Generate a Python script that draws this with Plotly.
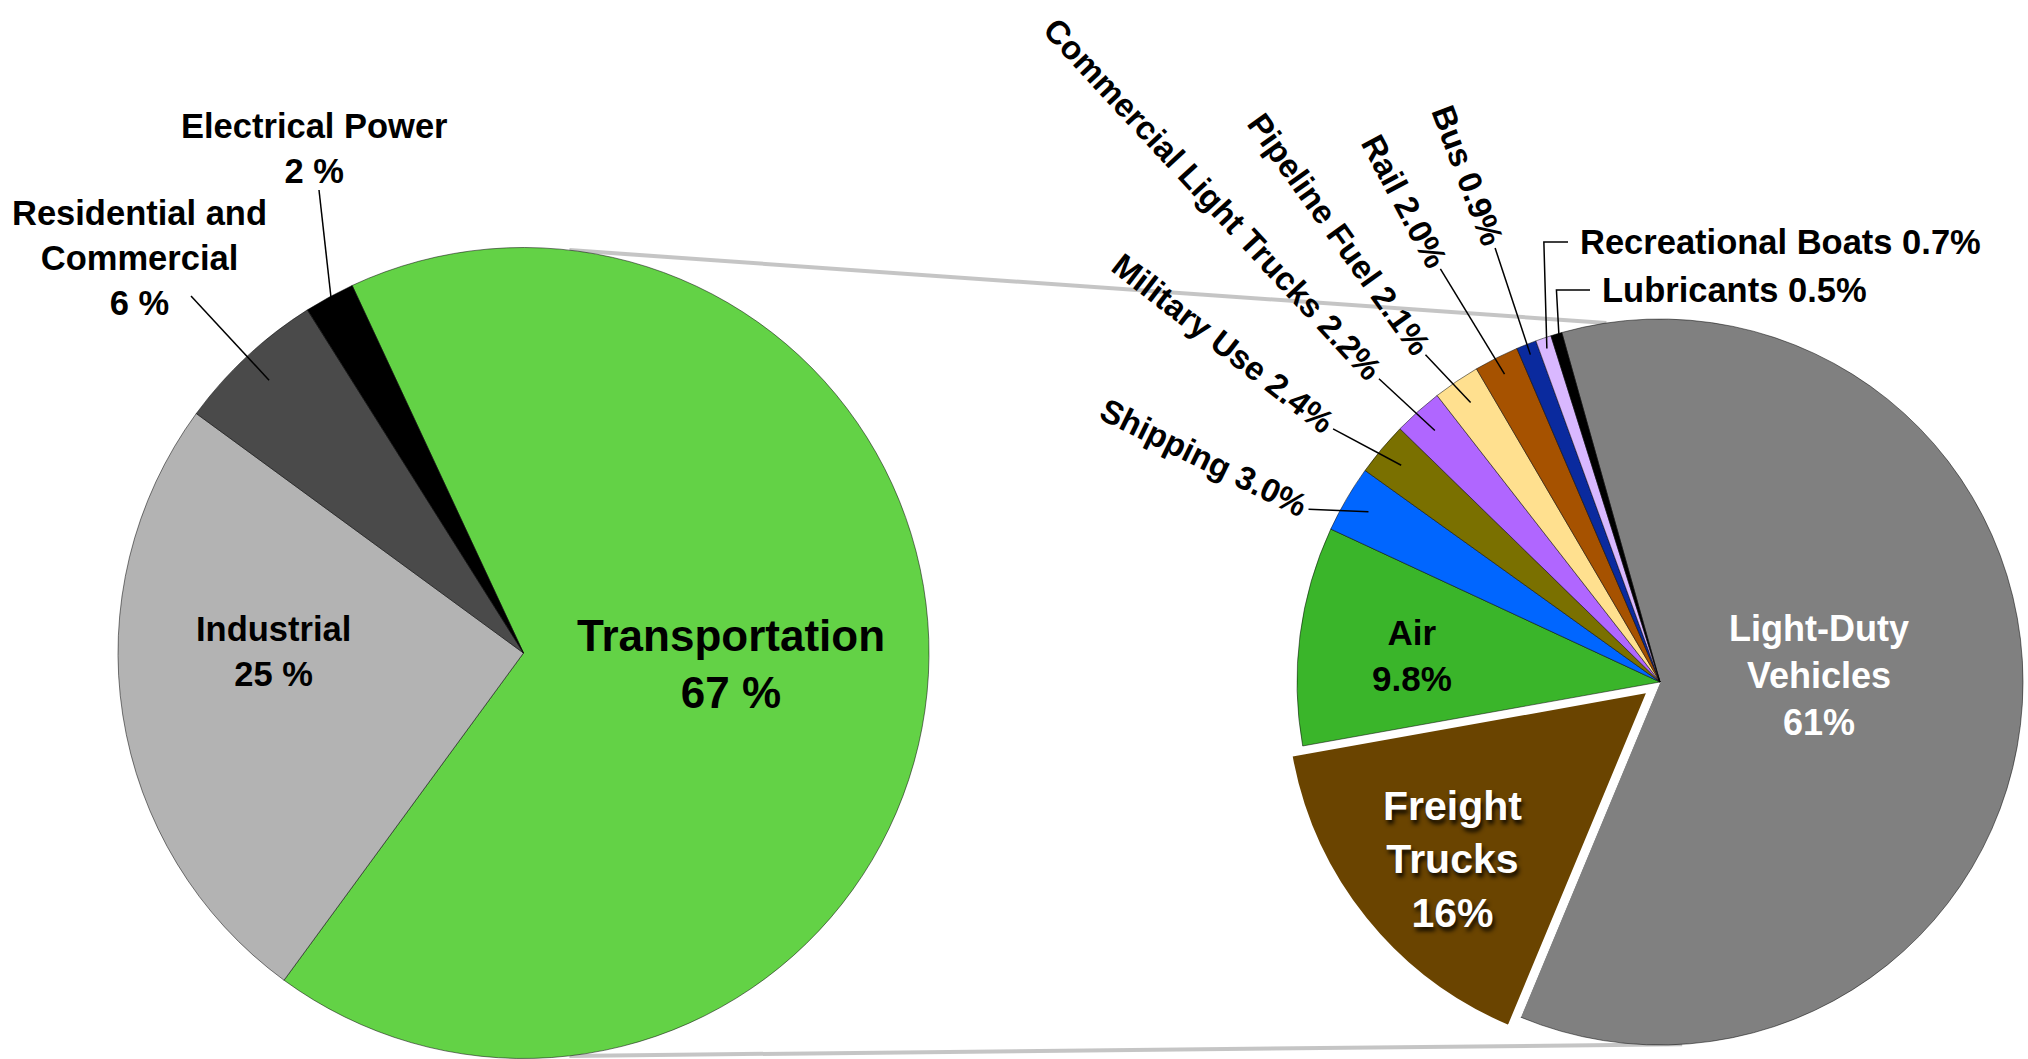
import math
import plotly.graph_objects as go

W, H = 2028, 1059

# ---------------- data ----------------
sector_names = ["Transportation", "Industrial", "Residential and<br>Commercial", "Electrical Power"]
sector_values = [67, 25, 6, 2]
sector_colors = ["#63D246", "#B3B3B3", "#4A4A4A", "#000000"]

mode_names = ["Light-Duty<br>Vehicles", "Freight<br>Trucks", "Air", "Shipping", "Military Use",
              "Commercial Light Trucks", "Pipeline Fuel", "Rail", "Bus",
              "Recreational Boats", "Lubricants"]
mode_values = [61, 16, 9.8, 3.0, 2.4, 2.2, 2.1, 2.0, 0.9, 0.7, 0.5]
mode_colors = ["#808080", "#6A4400", "#3AB52A", "#0066FF", "#7A7000", "#B066FF",
               "#FFE08F", "#A65200", "#0A2A9E", "#D9B8FF", "#000000"]

# ---------------- geometry (pixels) ----------------
FONT = "Liberation Sans, Arial, Helvetica, sans-serif"
L_CX, L_CY, L_R, L_ROT = 523.5, 653.0, 405.5, -25.0
R_CX, R_CY, R_R, R_ROT = 1660.0, 682.0, 363.0, -15.7
PULL_PX = 15.0
PULLED = 1  # index of Freight Trucks


def pt(cx, cy, r, ang):
    a = math.radians(ang)
    return cx + r * math.sin(a), cy - r * math.cos(a)


def paper(x, y):
    return x / W, 1 - y / H


def domain(cx, cy, r):
    return dict(x=[(cx - r) / W, (cx + r) / W], y=[1 - (cy + r) / H, 1 - (cy - r) / H])


def mid_angles(values, rot):
    tot = sum(values)
    out, cur = [], rot
    for v in values:
        span = 360 * v / tot
        out.append(cur + span / 2)
        cur += span
    return out


l_mid = mid_angles(sector_values, L_ROT)
r_mid = mid_angles(mode_values, R_ROT)

edge = "rgba(0,0,0,0.5)"

fig = go.Figure()
fig.add_trace(go.Pie(
    values=sector_values, labels=sector_names, sort=False, direction="clockwise",
    rotation=L_ROT, domain=domain(L_CX, L_CY, L_R), textinfo="none", hoverinfo="skip",
    marker=dict(colors=sector_colors, line=dict(color=edge, width=1)), showlegend=False))

main_colors = list(mode_colors)
main_colors[PULLED] = "#FFFFFF"
line_cols = [edge] * len(mode_values)
line_cols[PULLED] = "#FFFFFF"
fig.add_trace(go.Pie(
    values=mode_values, labels=mode_names, sort=False, direction="clockwise",
    rotation=R_ROT, domain=domain(R_CX, R_CY, R_R), textinfo="none", hoverinfo="skip",
    marker=dict(colors=main_colors, line=dict(color=line_cols, width=1)), showlegend=False))

# pulled-out Freight Trucks slice
dx, dy = pt(0, 0, PULL_PX, r_mid[PULLED])
pull_colors = ["rgba(0,0,0,0)"] * len(mode_values)
pull_colors[PULLED] = mode_colors[PULLED]
pull_lines = ["rgba(0,0,0,0)"] * len(mode_values)
pull_lines[PULLED] = "#FFFFFF"
pull_w = [0] * len(mode_values)
pull_w[PULLED] = 3
fig.add_trace(go.Pie(
    values=mode_values, labels=mode_names, sort=False, direction="clockwise",
    rotation=R_ROT, domain=domain(R_CX + dx, R_CY + dy, R_R), textinfo="none", hoverinfo="skip",
    marker=dict(colors=pull_colors, line=dict(color=pull_lines, width=pull_w)), showlegend=False))

shapes = []
annotations = []


def line(p1, p2, color="black", width=1.5, layer="above"):
    x0, y0 = paper(*p1)
    x1, y1 = paper(*p2)
    shapes.append(dict(type="line", xref="paper", yref="paper", x0=x0, y0=y0, x1=x1, y1=y1,
                       line=dict(color=color, width=width), layer=layer))


def path(points, color="black", width=1.5):
    d = ""
    for i, p in enumerate(points):
        x, y = paper(*p)
        d += ("M" if i == 0 else "L") + f"{x},{y}"
    shapes.append(dict(type="path", xref="paper", yref="paper", path=d,
                       line=dict(color=color, width=width)))


def text(s, x, y, size, color="black", angle=0, xanchor="center", shadow=None):
    px, py = paper(x, y)
    f = dict(family=FONT, size=size, color=color)
    if shadow:
        f["shadow"] = shadow
    annotations.append(dict(text=f"<b>{s}</b>", x=px, y=py, xref="paper", yref="paper",
                            showarrow=False, textangle=angle, xanchor=xanchor, yanchor="middle",
                            font=f, align="center"))


# connector lines between the two pies
conn = "rgba(150,150,150,0.55)"
line(pt(L_CX, L_CY, L_R, 6.5), pt(R_CX, R_CY, R_R, -8.5), conn, 4, "below")
line(pt(L_CX, L_CY, L_R, 173.5), pt(R_CX, R_CY, R_R, 176.5), conn, 4, "below")

SMALL = 34.5
# ---- left pie labels ----
pct_l = [f"{v:g} %" for v in sector_values]
text(f"{sector_names[0]}<br>{pct_l[0]}", 731, 664, 44)
text(f"{sector_names[1]}<br>{pct_l[1]}", 273, 651, SMALL)
text(f"{sector_names[2]}<br>{pct_l[2]}", 139, 258, SMALL)
text(f"{sector_names[3]}<br>{pct_l[3]}", 314, 148, SMALL)
line((191, 296), pt(L_CX, L_CY, L_R * 0.92, l_mid[2]))
line((319, 190), pt(L_CX, L_CY, L_R * 0.99, l_mid[3]))


# ---- right pie labels ----
def pct_r(v):
    return f"{v:g}%" if v >= 10 else f"{v:.1f}%"


text(f"{mode_names[0]}<br>{pct_r(mode_values[0])}", 1819, 675, 36, "white")
text(f"{mode_names[1]}<br>{pct_r(mode_values[1])}", 1452, 859, 41, "white",
     shadow="2px 4px 4px rgba(0,0,0,0.85)")
text(f"{mode_names[2]}<br>{pct_r(mode_values[2])}", 1412, 655, 35)

# Arial-bold advance widths (per em) for width estimation of rotated labels
CW = {" ": .278, "%": .889, ".": .278, "-": .333}
for c in "0123456789":
    CW[c] = .556
CW.update(dict(A=.722, B=.722, C=.722, D=.722, E=.667, F=.611, L=.611, M=.833, P=.667, R=.722,
               S=.667, T=.611, U=.722, a=.556, b=.611, c=.556, e=.556, g=.611, h=.611, i=.278,
               k=.556, l=.278, m=.889, n=.611, o=.611, p=.611, r=.389, s=.556, t=.333, u=.611,
               y=.556))


def twidth(s, size):
    return sum(CW.get(ch, .6) for ch in s) * size


ROT_SIZE = 33
# (index, angle nudge deg, text-end radius / R, leader inner radius / R)
rot_layout = [(3, -4.1, 1.09, 0.93), (4, -2.2, 1.15, 0.93), (5, -1.0, 1.15, 0.93),
              (6, -1.5, 1.12, 0.93), (7, -1.2, 1.30, 0.95), (8, 0.8, 1.29, 0.97)]
for idx, nudge, rend, rin in rot_layout:
    s = f"{mode_names[idx]} {pct_r(mode_values[idx])}"
    ang = r_mid[idx] + nudge
    half = twidth(s, ROT_SIZE) / 2
    cx, cy = pt(R_CX, R_CY, R_R * rend + half, ang)
    text(s, cx, cy, ROT_SIZE, angle=ang - 270)
    line(pt(R_CX, R_CY, R_R * rend - 4, ang), pt(R_CX, R_CY, R_R * rin, r_mid[idx]))

# horizontal labels with bracket leaders
for idx, tx, ty in [(9, 1578, 242), (10, 1600, 290)]:
    s = f"{mode_names[idx]} {pct_r(mode_values[idx])}"
    text(s, tx, ty, SMALL, xanchor="left")
    tip = pt(R_CX, R_CY, R_R * 0.97, r_mid[idx])
    path([(tx - 10, ty), (tip[0] - 3, ty), tip])

fig.update_layout(width=W, height=H, margin=dict(l=0, r=0, t=0, b=0),
                  paper_bgcolor="white", plot_bgcolor="white", showlegend=False,
                  shapes=shapes, annotations=annotations)
fig.write_html("out.html", config={"displayModeBar": False},
               post_script="document.body.style.margin='0';document.body.style.padding='0';")
